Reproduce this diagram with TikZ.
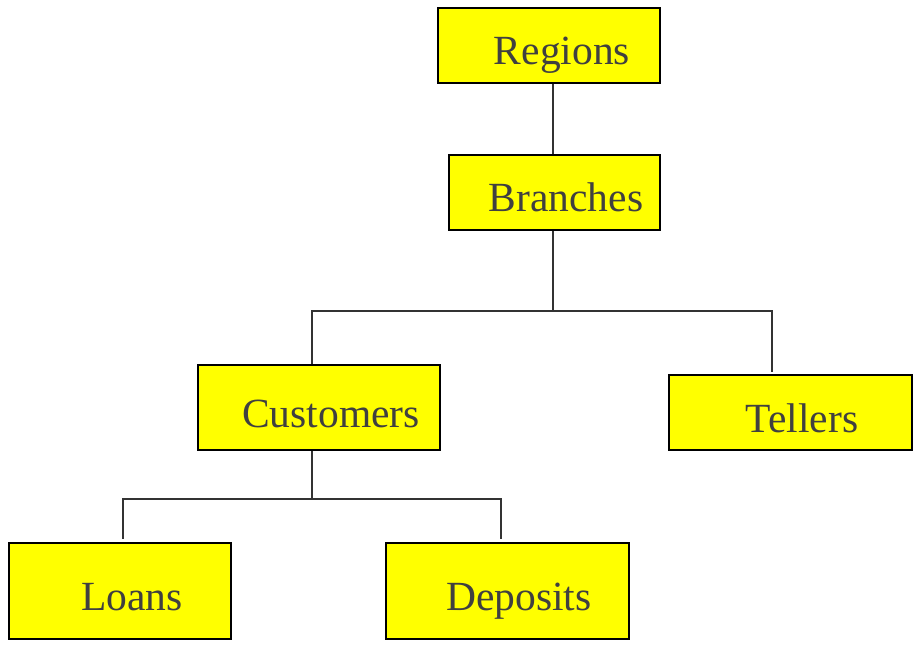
\documentclass[tikz,border=0pt]{standalone}
\usepackage{fontspec}
\setmainfont{Liberation Serif}
\definecolor{boxyellow}{RGB}{255,255,0}
\definecolor{txtgray}{RGB}{64,64,64}
\begin{document}
\begin{tikzpicture}[x=1pt,y=-1pt,
  box/.style={draw=black, line width=2pt, fill=boxyellow, inner sep=0pt},
  lbl/.style={anchor=base, text=txtgray, font=\fontsize{41.5}{48}\selectfont, inner sep=0pt},
  conn/.style={draw=black!80, line width=1.5pt}]
\useasboundingbox (0,0) rectangle (921,647);
% boxes
\node[box, minimum width=222pt, minimum height=75pt] (regions) at (549,45.5) {};
\node[box, minimum width=211pt, minimum height=75pt] (branches) at (554.5,192.5) {};
\node[box, minimum width=242pt, minimum height=85pt] (customers) at (319,407.5) {};
\node[box, minimum width=243pt, minimum height=75pt] (tellers) at (790.5,412.5) {};
\node[box, minimum width=222pt, minimum height=96pt] (loans) at (120,590.5) {};
\node[box, minimum width=243pt, minimum height=96pt] (deposits) at (507.5,590.5) {};
% labels
\node[lbl] (tregions) at (562,65) {Regions};
\node[lbl] (tbranches) at (566,212) {Branches};
\node[lbl] (tcustomers) at (331,427) {Customers};
\node[lbl] (ttellers) at (802,432) {Tellers};
\node[lbl] (tloans) at (132,610) {Loans};
\node[lbl] (tdeposits) at (519,610) {Deposits};
% junction points
\coordinate (j1) at (553,311);
\coordinate (cl) at (312,311);
\coordinate (tr) at (772,311);
\coordinate (j2) at (312,499);
\coordinate (ll) at (123,499);
\coordinate (dr) at (501,499);
% connectors
\draw[conn] (regions.south -| j1) -- (branches.north -| j1);
\draw[conn] (branches.south -| j1) -- (j1);
\draw[conn] (customers.north -| cl) -- (cl) -- (tr) -- ([yshift=2pt]tellers.north -| tr);
\draw[conn] (customers.south -| j2) -- (j2);
\draw[conn] ([yshift=3pt]loans.north -| ll) -- (ll) -- (dr) -- ([yshift=3pt]deposits.north -| dr);
\end{tikzpicture}
\end{document}
